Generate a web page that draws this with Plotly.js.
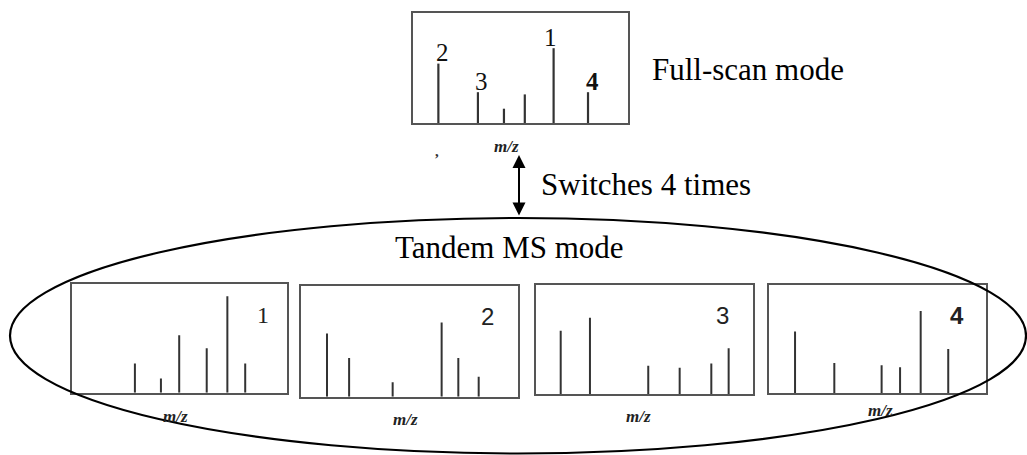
<!DOCTYPE html>
<html>
<head>
<meta charset="utf-8">
<script src="https://cdn.plot.ly/plotly-3.0.1.min.js"></script>
<style>
  html, body { margin: 0; padding: 0; background: #fff; }
  #chart { width: 1027px; height: 455px; }
</style>
</head>
<body>
<div id="chart"></div>
<script>
// ---- Spectra: m/z position (relative units 0-100) and relative intensity ----
const fullScanMz  = [11.8, 30.2, 42.3, 52.0, 65.4, 81.4];
const fullScanInt = [54, 28, 13, 26, 68, 28];
const precursorIds = ['2', '3', '', '', '1', '4'];

const ms2Mz_1  = [29.4, 41.5, 50.0, 62.8, 72.4, 80.7];
const ms2Int_1 = [27, 13, 53, 41, 89, 27];
const ms2Mz_2  = [12.0, 22.2, 42.3, 64.9, 72.6, 82.0];
const ms2Int_2 = [57, 35, 13, 67, 35, 18];
const ms2Mz_3  = [11.4, 24.9, 51.8, 66.3, 80.9, 88.9];
const ms2Int_3 = [58, 70, 26, 24, 28, 42];
const ms2Mz_4  = [12.0, 30.1, 51.9, 60.4, 69.9, 82.6];
const ms2Int_4 = [57, 28, 26, 24, 76, 41];
const ms2Ids   = ['1', '2', '3', '4'];

const modeLabels = ['Full-scan mode', 'Switches 4 times', 'Tandem MS mode'];
const axisLabel = 'm/z';

// ---- Page geometry (pixels) ----
const W = 1027, H = 455;
const px = v => v / W;
const py = v => 1 - v / H;

// panel frames: [left, right, top, bottom] in pixels
const frames = [
  [413, 628, 13, 123],
  [71.7, 286.7, 284.3, 392.7],
  [301, 517.7, 286, 396.7],
  [536, 752.7, 285, 394],
  [769, 986, 285, 393.3]
];

const serif = '"Liberation Serif", "Times New Roman", serif';
const sans = '"Liberation Sans", Arial, sans-serif';
const stickColor = '#333333';
const frameColor = '#555555';

// stick spectrum as one line trace with gaps between peaks
function sticks(mz, inten, axIdx, width) {
  const x = [], y = [];
  mz.forEach((m, i) => { x.push(m, m, null); y.push(0, inten[i], null); });
  const s = axIdx === 0 ? '' : String(axIdx + 1);
  return {
    type: 'scatter', mode: 'lines', x, y,
    xaxis: 'x' + s, yaxis: 'y' + s,
    line: { color: stickColor, width: width },
    hoverinfo: 'skip', showlegend: false
  };
}

const spectra = [
  [fullScanMz, fullScanInt],
  [ms2Mz_1, ms2Int_1],
  [ms2Mz_2, ms2Int_2],
  [ms2Mz_3, ms2Int_3],
  [ms2Mz_4, ms2Int_4]
];
const traces = spectra.map((s, i) => sticks(s[0], s[1], i, i === 0 ? 2.2 : 2));

const layout = {
  width: W, height: H,
  margin: { l: 0, r: 0, t: 0, b: 0 },
  paper_bgcolor: '#fff', plot_bgcolor: '#fff',
  showlegend: false,
  annotations: [],
  shapes: []
};

frames.forEach((f, i) => {
  const s = i === 0 ? '' : String(i + 1);
  const common = {
    showticklabels: false, ticks: '', showgrid: false, zeroline: false,
    showline: true, mirror: true, linecolor: frameColor, linewidth: 2,
    fixedrange: true
  };
  layout['xaxis' + s] = Object.assign({}, common, {
    domain: [px(f[0]), px(f[1])], range: [0, 100], anchor: 'y' + s
  });
  layout['yaxis' + s] = Object.assign({}, common, {
    domain: [py(f[3]), py(f[2])], range: [0, 100], anchor: 'x' + s
  });
});

// precursor numbers above full-scan peaks
fullScanMz.forEach((m, i) => {
  if (!precursorIds[i]) return;
  layout.annotations.push({
    x: m, y: fullScanInt[i], xref: 'x', yref: 'y',
    text: precursorIds[i], showarrow: false,
    xanchor: 'center', yanchor: 'middle',
    xshift: precursorIds[i] === '1' ? -3 : 4, yshift: 11,
    font: { family: serif, size: 25, color: '#111',
            weight: precursorIds[i] === '4' ? 'bold' : 'normal' }
  });
});

// product-ion panel numbers
const idPos = [[263.3, 315], [487.3, 316.7], [722.7, 315], [956.7, 315]];
ms2Ids.forEach((t, i) => {
  layout.annotations.push({
    x: px(idPos[i][0]), y: py(idPos[i][1]), xref: 'paper', yref: 'paper',
    text: t, showarrow: false, xanchor: 'center', yanchor: 'middle',
    font: { family: i === 0 ? serif : sans, size: 24, color: '#222',
            weight: i === 3 ? 'bold' : 'normal' }
  });
});

// m/z axis captions
const mzPos = [[506.7, 146], [175, 416], [405, 419], [638.3, 416], [880, 410]];
mzPos.forEach(p => {
  layout.annotations.push({
    x: px(p[0]), y: py(p[1]), xref: 'paper', yref: 'paper',
    text: '<b><i>' + axisLabel + '</i></b>', showarrow: false,
    xanchor: 'center', yanchor: 'middle',
    font: { family: serif, size: 17, color: '#222' }
  });
});
layout.annotations.push({
  x: px(437), y: py(151), xref: 'paper', yref: 'paper',
  text: '<b>,</b>', showarrow: false, xanchor: 'center', yanchor: 'middle',
  font: { family: serif, size: 15, color: '#333' }
});

// mode captions
layout.annotations.push({
  x: px(650), y: py(69), xref: 'paper', yref: 'paper',
  text: modeLabels[0], showarrow: false, xanchor: 'left', yanchor: 'middle',
  font: { family: serif, size: 31, color: '#000' }
});
layout.annotations.push({
  x: px(539), y: py(184), xref: 'paper', yref: 'paper',
  text: modeLabels[1], showarrow: false, xanchor: 'left', yanchor: 'middle',
  font: { family: serif, size: 31, color: '#000' }
});
layout.annotations.push({
  x: px(509.7), y: py(248), xref: 'paper', yref: 'paper',
  text: modeLabels[2], showarrow: false, xanchor: 'center', yanchor: 'middle',
  font: { family: serif, size: 31, color: '#000' }
});

// double-headed switching arrow
layout.annotations.push({
  x: px(519), y: py(215.5), xref: 'paper', yref: 'paper',
  ax: 0, ay: -62, axref: 'pixel', ayref: 'pixel',
  text: '', showarrow: true, arrowhead: 2, startarrowhead: 2,
  arrowside: 'end+start', arrowsize: 1.3, startarrowsize: 1.3,
  arrowwidth: 2, arrowcolor: '#000', standoff: 0, startstandoff: 0
});

// ellipse around the tandem MS panels
layout.shapes.push({
  type: 'circle', xref: 'paper', yref: 'paper', layer: 'above',
  x0: px(10), x1: px(1026), y0: py(218), y1: py(453.5),
  line: { color: '#000', width: 2.2 }, fillcolor: 'rgba(0,0,0,0)'
});

Plotly.newPlot('chart', traces, layout, { staticPlot: true, displayModeBar: false });
</script>
</body>
</html>
